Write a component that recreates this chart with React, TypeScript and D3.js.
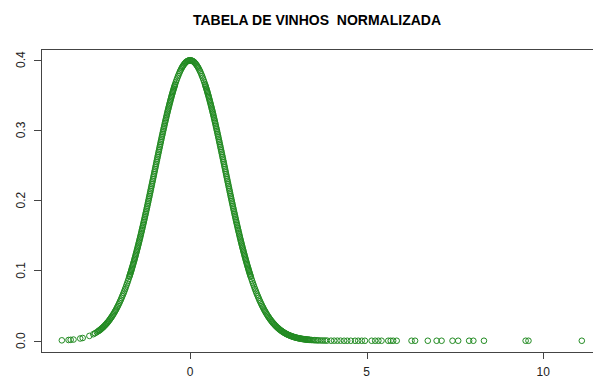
import React from "react";
import * as d3 from "d3";

// z-scores (x) and normal density (y), left to right
const leftTail = [
  [-3.63, 0.0006], [-3.44, 0.0011], [-3.38, 0.0013], [-3.3, 0.0017], [-3.11, 0.0032],
  [-3.04, 0.0039], [-2.85, 0.0069], [-2.74, 0.0093], [-2.69, 0.0107], [-2.64, 0.0122],
];

const leftFoot = [
  [-2.6, 0.0136], [-2.58, 0.0143], [-2.56, 0.0151], [-2.54, 0.0158], [-2.52, 0.0167],
  [-2.5, 0.0175], [-2.48, 0.0184], [-2.46, 0.0194], [-2.44, 0.0203], [-2.42, 0.0213],
  [-2.4, 0.0224], [-2.38, 0.0235], [-2.36, 0.0246], [-2.34, 0.0258], [-2.32, 0.027],
  [-2.3, 0.0283], [-2.28, 0.0297], [-2.26, 0.031], [-2.24, 0.0325], [-2.22, 0.0339],
  [-2.2, 0.0355], [-2.18, 0.0371], [-2.16, 0.0387], [-2.14, 0.0404], [-2.12, 0.0422],
  [-2.1, 0.044], [-2.08, 0.0459], [-2.06, 0.0478], [-2.04, 0.0498], [-2.02, 0.0519],
  [-2.0, 0.054], [-1.98, 0.0562], [-1.96, 0.0584], [-1.94, 0.0608], [-1.92, 0.0632],
  [-1.9, 0.0656], [-1.88, 0.0681], [-1.86, 0.0707], [-1.84, 0.0734], [-1.82, 0.0761],
  [-1.8, 0.079], [-1.78, 0.0818], [-1.76, 0.0848], [-1.74, 0.0878],
];

const leftFlank = [
  [-1.72, 0.0909], [-1.71, 0.0925], [-1.7, 0.094], [-1.69, 0.0957], [-1.68, 0.0973],
  [-1.67, 0.0989], [-1.66, 0.1006], [-1.65, 0.1023], [-1.64, 0.104], [-1.63, 0.1057],
  [-1.62, 0.1074], [-1.61, 0.1092], [-1.6, 0.1109], [-1.59, 0.1127], [-1.58, 0.1145],
  [-1.57, 0.1163], [-1.56, 0.1182], [-1.55, 0.12], [-1.54, 0.1219], [-1.53, 0.1238],
  [-1.52, 0.1257], [-1.51, 0.1276], [-1.5, 0.1295], [-1.49, 0.1315], [-1.48, 0.1334],
  [-1.47, 0.1354], [-1.46, 0.1374], [-1.45, 0.1394], [-1.44, 0.1415], [-1.43, 0.1435],
  [-1.42, 0.1456], [-1.41, 0.1476], [-1.4, 0.1497], [-1.39, 0.1518], [-1.38, 0.1539],
  [-1.37, 0.1561], [-1.36, 0.1582], [-1.35, 0.1604], [-1.34, 0.1626], [-1.33, 0.1647],
  [-1.32, 0.1669], [-1.31, 0.1691], [-1.3, 0.1714], [-1.29, 0.1736], [-1.28, 0.1758],
  [-1.27, 0.1781], [-1.26, 0.1804], [-1.25, 0.1826], [-1.24, 0.1849], [-1.23, 0.1872],
  [-1.22, 0.1895], [-1.21, 0.1919], [-1.2, 0.1942], [-1.19, 0.1965], [-1.18, 0.1989],
  [-1.17, 0.2012], [-1.16, 0.2036], [-1.15, 0.2059], [-1.14, 0.2083], [-1.13, 0.2107],
  [-1.12, 0.2131], [-1.11, 0.2155], [-1.1, 0.2179], [-1.09, 0.2203], [-1.08, 0.2227],
  [-1.07, 0.2251], [-1.06, 0.2275], [-1.05, 0.2299], [-1.04, 0.2323], [-1.03, 0.2347],
  [-1.02, 0.2371], [-1.01, 0.2396], [-1.0, 0.242], [-0.99, 0.2444], [-0.98, 0.2468],
  [-0.97, 0.2492], [-0.96, 0.2516], [-0.95, 0.2541], [-0.94, 0.2565], [-0.93, 0.2589],
  [-0.92, 0.2613], [-0.91, 0.2637], [-0.9, 0.2661], [-0.89, 0.2685], [-0.88, 0.2709],
  [-0.87, 0.2732], [-0.86, 0.2756], [-0.85, 0.278], [-0.84, 0.2803], [-0.83, 0.2827],
  [-0.82, 0.285], [-0.81, 0.2874], [-0.8, 0.2897], [-0.79, 0.292], [-0.78, 0.2943],
  [-0.77, 0.2966], [-0.76, 0.2989], [-0.75, 0.3011], [-0.74, 0.3034], [-0.73, 0.3056],
  [-0.72, 0.3079], [-0.71, 0.3101], [-0.7, 0.3123], [-0.69, 0.3144], [-0.68, 0.3166],
  [-0.67, 0.3187], [-0.66, 0.3209], [-0.65, 0.323], [-0.64, 0.3251], [-0.63, 0.3271],
  [-0.62, 0.3292], [-0.61, 0.3312], [-0.6, 0.3332], [-0.59, 0.3352], [-0.58, 0.3372],
  [-0.57, 0.3391], [-0.56, 0.341], [-0.55, 0.3429], [-0.54, 0.3448], [-0.53, 0.3467],
  [-0.52, 0.3485], [-0.51, 0.3503], [-0.5, 0.3521], [-0.49, 0.3538], [-0.48, 0.3555],
  [-0.47, 0.3572], [-0.46, 0.3589], [-0.45, 0.3605], [-0.44, 0.3621], [-0.43, 0.3637],
];

const crest = [
  [-0.42, 0.3653], [-0.4, 0.3683], [-0.38, 0.3712], [-0.36, 0.3739], [-0.34, 0.3765],
  [-0.32, 0.379], [-0.3, 0.3814], [-0.28, 0.3836], [-0.26, 0.3857], [-0.24, 0.3876],
  [-0.22, 0.3894], [-0.2, 0.391], [-0.18, 0.3925], [-0.16, 0.3939], [-0.14, 0.395],
  [-0.12, 0.3961], [-0.1, 0.397], [-0.08, 0.3977], [-0.06, 0.3982], [-0.04, 0.3986],
  [-0.02, 0.3989], [0, 0.3989], [0.02, 0.3989], [0.04, 0.3986], [0.06, 0.3982],
  [0.08, 0.3977], [0.1, 0.397], [0.12, 0.3961], [0.14, 0.395], [0.16, 0.3939],
  [0.18, 0.3925], [0.2, 0.391], [0.22, 0.3894], [0.24, 0.3876], [0.26, 0.3857],
  [0.28, 0.3836], [0.3, 0.3814], [0.32, 0.379], [0.34, 0.3765], [0.36, 0.3739],
  [0.38, 0.3712], [0.4, 0.3683], [0.42, 0.3653],
];

const rightFlank = [
  [0.43, 0.3637], [0.44, 0.3621], [0.45, 0.3605], [0.46, 0.3589], [0.47, 0.3572],
  [0.48, 0.3555], [0.49, 0.3538], [0.5, 0.3521], [0.51, 0.3503], [0.52, 0.3485],
  [0.53, 0.3467], [0.54, 0.3448], [0.55, 0.3429], [0.56, 0.341], [0.57, 0.3391],
  [0.58, 0.3372], [0.59, 0.3352], [0.6, 0.3332], [0.61, 0.3312], [0.62, 0.3292],
  [0.63, 0.3271], [0.64, 0.3251], [0.65, 0.323], [0.66, 0.3209], [0.67, 0.3187],
  [0.68, 0.3166], [0.69, 0.3144], [0.7, 0.3123], [0.71, 0.3101], [0.72, 0.3079],
  [0.73, 0.3056], [0.74, 0.3034], [0.75, 0.3011], [0.76, 0.2989], [0.77, 0.2966],
  [0.78, 0.2943], [0.79, 0.292], [0.8, 0.2897], [0.81, 0.2874], [0.82, 0.285],
  [0.83, 0.2827], [0.84, 0.2803], [0.85, 0.278], [0.86, 0.2756], [0.87, 0.2732],
  [0.88, 0.2709], [0.89, 0.2685], [0.9, 0.2661], [0.91, 0.2637], [0.92, 0.2613],
  [0.93, 0.2589], [0.94, 0.2565], [0.95, 0.2541], [0.96, 0.2516], [0.97, 0.2492],
  [0.98, 0.2468], [0.99, 0.2444], [1.0, 0.242], [1.01, 0.2396], [1.02, 0.2371],
  [1.03, 0.2347], [1.04, 0.2323], [1.05, 0.2299], [1.06, 0.2275], [1.07, 0.2251],
  [1.08, 0.2227], [1.09, 0.2203], [1.1, 0.2179], [1.11, 0.2155], [1.12, 0.2131],
  [1.13, 0.2107], [1.14, 0.2083], [1.15, 0.2059], [1.16, 0.2036], [1.17, 0.2012],
  [1.18, 0.1989], [1.19, 0.1965], [1.2, 0.1942], [1.21, 0.1919], [1.22, 0.1895],
  [1.23, 0.1872], [1.24, 0.1849], [1.25, 0.1826], [1.26, 0.1804], [1.27, 0.1781],
  [1.28, 0.1758], [1.29, 0.1736], [1.3, 0.1714], [1.31, 0.1691], [1.32, 0.1669],
  [1.33, 0.1647], [1.34, 0.1626], [1.35, 0.1604], [1.36, 0.1582], [1.37, 0.1561],
  [1.38, 0.1539], [1.39, 0.1518], [1.4, 0.1497], [1.41, 0.1476], [1.42, 0.1456],
  [1.43, 0.1435], [1.44, 0.1415], [1.45, 0.1394], [1.46, 0.1374], [1.47, 0.1354],
  [1.48, 0.1334], [1.49, 0.1315], [1.5, 0.1295], [1.51, 0.1276], [1.52, 0.1257],
  [1.53, 0.1238], [1.54, 0.1219], [1.55, 0.12], [1.56, 0.1182], [1.57, 0.1163],
  [1.58, 0.1145], [1.59, 0.1127], [1.6, 0.1109], [1.61, 0.1092], [1.62, 0.1074],
  [1.63, 0.1057], [1.64, 0.104], [1.65, 0.1023], [1.66, 0.1006], [1.67, 0.0989],
  [1.68, 0.0973], [1.69, 0.0957], [1.7, 0.094], [1.71, 0.0925], [1.72, 0.0909],
];

const rightFoot = [
  [1.74, 0.0878], [1.76, 0.0848], [1.78, 0.0818], [1.8, 0.079], [1.82, 0.0761],
  [1.84, 0.0734], [1.86, 0.0707], [1.88, 0.0681], [1.9, 0.0656], [1.92, 0.0632],
  [1.94, 0.0608], [1.96, 0.0584], [1.98, 0.0562], [2.0, 0.054], [2.02, 0.0519],
  [2.04, 0.0498], [2.06, 0.0478], [2.08, 0.0459], [2.1, 0.044], [2.12, 0.0422],
  [2.14, 0.0404], [2.16, 0.0387], [2.18, 0.0371], [2.2, 0.0355], [2.22, 0.0339],
  [2.24, 0.0325], [2.26, 0.031], [2.28, 0.0297], [2.3, 0.0283], [2.32, 0.027],
  [2.34, 0.0258], [2.36, 0.0246], [2.38, 0.0235], [2.4, 0.0224], [2.42, 0.0213],
  [2.44, 0.0203], [2.46, 0.0194], [2.48, 0.0184], [2.5, 0.0175], [2.52, 0.0167],
  [2.54, 0.0158], [2.56, 0.0151], [2.58, 0.0143], [2.6, 0.0136], [2.62, 0.0129],
  [2.64, 0.0122], [2.66, 0.0116], [2.68, 0.011], [2.7, 0.0104], [2.72, 0.0099],
  [2.74, 0.0093], [2.76, 0.0088], [2.78, 0.0084], [2.8, 0.0079], [2.82, 0.0075],
  [2.84, 0.0071], [2.86, 0.0067], [2.88, 0.0063], [2.9, 0.006], [2.92, 0.0056],
  [2.94, 0.0053], [2.96, 0.005], [2.98, 0.0047], [3.0, 0.0044], [3.02, 0.0042],
  [3.04, 0.0039], [3.06, 0.0037], [3.08, 0.0035], [3.1, 0.0033], [3.12, 0.0031],
  [3.14, 0.0029], [3.16, 0.0027], [3.18, 0.0025], [3.2, 0.0024], [3.22, 0.0022],
  [3.24, 0.0021], [3.26, 0.002], [3.28, 0.0018], [3.3, 0.0017], [3.32, 0.0016],
  [3.34, 0.0015], [3.36, 0.0014], [3.38, 0.0013], [3.4, 0.0012],
];

const rightTail = [
  [3.44, 0.0011], [3.48, 0.0009], [3.52, 0.0008], [3.56, 0.0007], [3.6, 0.0006],
  [3.64, 0.0005], [3.7, 0.0004], [3.76, 0.0003], [3.82, 0.0003], [3.88, 0.0002],
  [3.99, 0.0001], [4.08, 0.0001], [4.17, 0.0001], [4.26, 0.0001], [4.36, 0],
  [4.45, 0], [4.55, 0], [4.67, 0], [4.76, 0], [4.86, 0], [4.95, 0], [5.14, 0],
  [5.24, 0], [5.33, 0], [5.42, 0], [5.61, 0], [5.68, 0], [5.75, 0], [5.85, 0],
  [6.27, 0], [6.37, 0], [6.73, 0], [6.98, 0], [7.12, 0], [7.43, 0], [7.59, 0],
  [7.9, 0], [8.02, 0], [8.32, 0], [9.5, 0], [9.58, 0], [11.09, 0],
];

const xTicks = [0, 5, 10];
const yTicks = [0, 0.1, 0.2, 0.3, 0.4];
const title = "TABELA DE VINHOS  NORMALIZADA";

const W = 593;
const H = 378;
const plot = { left: 41, right: 603, top: 49, bottom: 352 };
const FONT = "'Liberation Sans', Arial, sans-serif";
const INK = "#222";
const GREEN = "#228B22";

export default function App() {
  const points = [...leftTail, ...leftFoot, ...leftFlank, ...crest, ...rightFlank, ...rightFoot, ...rightTail];

  const x = d3.scaleLinear().domain([-4.22, 11.69]).range([plot.left, plot.right]);
  const y = d3.scaleLinear().domain([-0.016, 0.415]).range([plot.bottom, plot.top]);

  return (
    <svg width={W} height={H} style={{ position: "absolute", left: 0, top: 0, background: "#fff" }}>
      <text x={317} y={25} textAnchor="middle" fontFamily={FONT} fontSize={14} fontWeight="bold" fill="#000" style={{ whiteSpace: "pre" }}>
        {title}
      </text>

      {points.map((d, i) => (
        <circle key={i} cx={x(d[0])} cy={y(d[1])} r={2.8} fill="none" stroke={GREEN} strokeWidth={1} />
      ))}

      <rect x={plot.left + 0.5} y={plot.top + 0.5} width={plot.right - plot.left} height={plot.bottom - plot.top} fill="none" stroke="#444" strokeWidth={1} />

      {/* x axis */}
      <line x1={x(0)} x2={x(10)} y1={plot.bottom + 0.5} y2={plot.bottom + 0.5} stroke="#444" />
      {xTicks.map((t) => (
        <g key={t}>
          <line x1={Math.round(x(t)) + 0.5} x2={Math.round(x(t)) + 0.5} y1={plot.bottom} y2={plot.bottom + 7} stroke="#444" />
          <text x={x(t)} y={375.5} textAnchor="middle" fontFamily={FONT} fontSize={12} fill={INK}>
            {t}
          </text>
        </g>
      ))}

      {/* y axis */}
      <line x1={plot.left + 0.5} x2={plot.left + 0.5} y1={y(0)} y2={y(0.4)} stroke="#444" />
      {yTicks.map((t) => (
        <g key={t}>
          <line x1={plot.left - 7} x2={plot.left} y1={Math.round(y(t)) + 0.5} y2={Math.round(y(t)) + 0.5} stroke="#444" />
          <text transform={`translate(24.5, ${y(t)}) rotate(-90)`} textAnchor="middle" fontFamily={FONT} fontSize={12} fill={INK}>
            {t.toFixed(1)}
          </text>
        </g>
      ))}
    </svg>
  );
}
